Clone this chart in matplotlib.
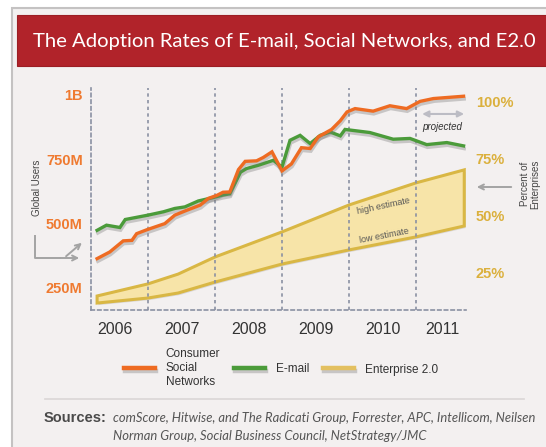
"""Adoption rates of e-mail, social networks and Enterprise 2.0."""

import matplotlib

matplotlib.use("Agg")
import matplotlib.pyplot as plt
import matplotlib.patheffects as pe
from matplotlib.lines import Line2D
from matplotlib.patches import Rectangle, FancyArrowPatch

# consumer social networks, global users (millions)
social_years = [2006.24, 2006.43, 2006.63, 2006.76, 2006.83, 2006.98, 2007.25, 2007.40,
                2007.58, 2007.78, 2007.90, 2008.03, 2008.12, 2008.22, 2008.35, 2008.45,
                2008.62, 2008.72, 2008.85, 2009.00, 2009.14, 2009.29, 2009.42, 2009.54,
                2009.74, 2009.87, 2009.97, 2010.09, 2010.36, 2010.61, 2010.86, 2011.06,
                2011.26, 2011.71]
social_users = [364, 390, 433, 435, 461, 476, 500, 533,
                552, 572, 598, 610, 622, 623, 710, 742,
                744, 757, 779, 705, 732, 795, 792, 837,
                866, 900, 934, 947, 937, 958, 947, 975,
                986, 995]

# e-mail, global users (millions)
email_years = [2006.24, 2006.38, 2006.58, 2006.66, 2007.00, 2007.23, 2007.40, 2007.55,
               2007.75, 2007.95, 2008.10, 2008.22, 2008.38, 2008.47, 2008.65, 2008.87,
               2009.00, 2009.12, 2009.27, 2009.42, 2009.57, 2009.72, 2009.87, 2009.94,
               2010.31, 2010.66, 2010.91, 2011.16, 2011.46, 2011.71]
email_users = [474, 494, 485, 516, 533, 546, 559, 565,
               588, 600, 610, 616, 700, 714, 727, 746,
               720, 824, 843, 811, 843, 856, 841, 866,
               854, 828, 831, 807, 815, 802]

# enterprise 2.0, percent of enterprises (band between low and high estimate)
e20_years = [2006.24, 2007.0, 2007.45, 2008.0, 2009.0, 2010.0, 2011.0, 2011.72]
e20_high = [14.7, 20.0, 24.3, 31.8, 42.8, 54.6, 64.3, 70.0]
e20_low = [11.6, 13.8, 16.0, 20.8, 28.7, 34.9, 40.6, 45.4]

user_ticks = [250, 500, 750, 1000]
user_labels = ["250M", "500M", "750M", "1B"]
pct_ticks = [25, 50, 75, 100]
pct_labels = ["25%", "50%", "75%", "100%"]
year_ticks = [2006.5, 2007.5, 2008.5, 2009.5, 2010.5, 2011.4]
year_labels = ["2006", "2007", "2008", "2009", "2010", "2011"]
year_lines = [2007, 2008, 2009, 2010, 2011]

ORANGE = "#ee6b22"
GREEN = "#4b9b3a"
GOLD_FILL = "#f7e4a8"
GOLD_EDGE = "#d9b744"
NARROW = ["Liberation Sans Narrow", "Liberation Sans", "DejaVu Sans"]
W, H = 546, 447


def fx(px):
    return px / W


def fy(py):
    return 1 - py / H


fig = plt.figure(figsize=(5.46, 4.47), dpi=100)
fig.patch.set_facecolor("white")

# panel and red title bar (kept behind the axes)
fig.add_artist(Rectangle((fx(12), fy(449)), fx(540), 441 / H, transform=fig.transFigure,
                         facecolor="#f3f0f0", edgecolor="#c4c2c2", lw=1.5, zorder=-2))
fig.add_artist(Rectangle((fx(17), fy(66)), fx(540), 51 / H, transform=fig.transFigure,
                         facecolor="#b1232a", edgecolor="#9c1e24", lw=0.8, zorder=-1))
fig.text(fx(284), fy(42), "The Adoption Rates of E-mail, Social Networks, and E2.0",
         color="white", fontsize=14.6, family="Lato", ha="center", va="center")

ax = fig.add_axes([fx(91), fy(310), 375 / W, 222 / H])
ax.set_facecolor("none")
ax.set_xlim(2006.149, 2011.746)
ax.set_ylim(164.4, 1027)
ax2 = ax.twinx()
ax2.set_ylim(8.55, 105.9)

for spine in ["top", "right"]:
    ax.spines[spine].set_visible(False)
    ax2.spines[spine].set_visible(False)
ax2.spines["left"].set_visible(False)
ax2.spines["bottom"].set_visible(False)
for spine in ["left", "bottom"]:
    ax.spines[spine].set_color("#8a90a2")
    ax.spines[spine].set_linestyle((0, (2, 2)))
    ax.spines[spine].set_linewidth(1.2)
for yr in year_lines:
    ax.axvline(yr, color="#8a90a2", lw=1.2, ls=(0, (2, 2)), zorder=0)

ax.set_yticks(user_ticks, user_labels)
ax.tick_params(axis="y", length=0, pad=6, labelcolor="#ef7a30", labelsize=10.5)
for t in ax.get_yticklabels():
    t.set_family(NARROW)
    t.set_fontweight("bold")
ax2.set_yticks(pct_ticks, pct_labels)
ax2.tick_params(axis="y", length=0, pad=7, labelcolor="#dbb03c", labelsize=10.5)
for t in ax2.get_yticklabels():
    t.set_family(NARROW)
    t.set_fontweight("bold")
ax.set_xticks(year_ticks, year_labels)
ax.tick_params(axis="x", length=0, pad=9, labelcolor="#333333", labelsize=11.5)
for t in ax.get_xticklabels():
    t.set_family(NARROW)

shadow = [pe.SimpleLineShadow(offset=(0.5, -2), shadow_color="#777777", alpha=0.35),
          pe.Normal()]

# enterprise 2.0 band on the percent axis
ax2.fill(e20_years + e20_years[::-1], e20_high + e20_low[::-1],
         facecolor=GOLD_FILL, edgecolor=GOLD_EDGE, lw=2.2, zorder=2,
         path_effects=[pe.SimplePatchShadow(offset=(1, -1.5), alpha=0.15), pe.Normal()])
ax2.text(2010.52, 54.3, "high estimate", rotation=12, fontsize=6.5, color="#555555",
         ha="center", va="center", family=NARROW)
ax2.text(2010.52, 41.2, "low estimate", rotation=11, fontsize=6.5, color="#555555",
         ha="center", va="center", family=NARROW)

# user lines drawn on the left axis, on top of the band
ax.set_zorder(ax2.get_zorder() + 1)
ax.plot(email_years, email_users, color=GREEN, lw=2.4, solid_joinstyle="miter",
        path_effects=shadow, zorder=3)
ax.plot(social_years, social_users, color=ORANGE, lw=2.4, solid_joinstyle="miter",
        path_effects=shadow, zorder=4)

ax.annotate("", xy=(0.995, 0.883), xytext=(0.883, 0.883), xycoords="axes fraction",
            arrowprops=dict(arrowstyle="<|-|>", color="#bcbcc4", lw=1.5,
                            mutation_scale=9, shrinkA=0, shrinkB=0))
ax.text(0.937, 0.824, "projected", transform=ax.transAxes, fontsize=7,
        style="italic", color="#333333", ha="center", va="center", family=NARROW)

# side labels with arrows
fig.text(fx(37), fy(188), "Global Users", rotation=90, fontsize=7, color="#444444",
         ha="center", va="center", family=NARROW)
fig.add_artist(Line2D([fx(35), fx(35), fx(60)], [fy(236), fy(258), fy(258)],
                      color="#a3a3a3", lw=1.4))
fig.add_artist(FancyArrowPatch((fx(58), fy(258)), (fx(82), fy(258)),
                               transform=fig.transFigure, arrowstyle="->",
                               mutation_scale=9, color="#a3a3a3", lw=1.4))
fig.add_artist(FancyArrowPatch((fx(64), fy(258)), (fx(84), fy(241)),
                               transform=fig.transFigure, arrowstyle="->",
                               mutation_scale=9, color="#a3a3a3", lw=1.4))
fig.text(fx(530), fy(184), "Percent of\nEnterprises", rotation=90, fontsize=7,
         color="#444444", ha="center", va="center", family=NARROW, linespacing=0.95)
fig.add_artist(FancyArrowPatch((fx(514), fy(187)), (fx(474), fy(187)),
                               transform=fig.transFigure, arrowstyle="->",
                               mutation_scale=9, color="#a3a3a3", lw=1.4))

# legend
handles = [Line2D([], [], color=ORANGE, lw=3.2, path_effects=shadow),
           Line2D([], [], color=GREEN, lw=3.2, path_effects=shadow),
           Line2D([], [], color="#e3c060", lw=3.2, path_effects=shadow)]
leg = fig.legend(handles, ["Consumer\nSocial\nNetworks", "E-mail", "Enterprise 2.0"],
                 loc="center", bbox_to_anchor=(fx(281), fy(368)), ncol=3, frameon=False,
                 prop={"family": NARROW, "size": 8.5}, handlelength=2.6,
                 handletextpad=0.9, columnspacing=1.2, labelspacing=0)
for t in leg.get_texts():
    t.set_color("#333333")

# sources
fig.add_artist(Line2D([fx(45), fx(524)], [fy(398.5), fy(398.5)], color="#dad6d6", lw=1.2))
fig.text(fx(44), fy(418), "Sources:", fontsize=10.5, fontweight="bold", color="#4a4a4a",
         family=["Liberation Sans", "DejaVu Sans"], va="center")
fig.text(fx(113), fy(418),
         "comScore, Hitwise, and The Radicati Group, Forrester, APC, Intellicom, Neilsen",
         fontsize=9.4, style="italic", color="#555555", family="Lato", va="center")
fig.text(fx(113), fy(436), "Norman Group, Social Business Council, NetStrategy/JMC",
         fontsize=9.4, style="italic", color="#555555", family="Lato", va="center")

fig.savefig("out.png", dpi=100, facecolor=fig.get_facecolor())
